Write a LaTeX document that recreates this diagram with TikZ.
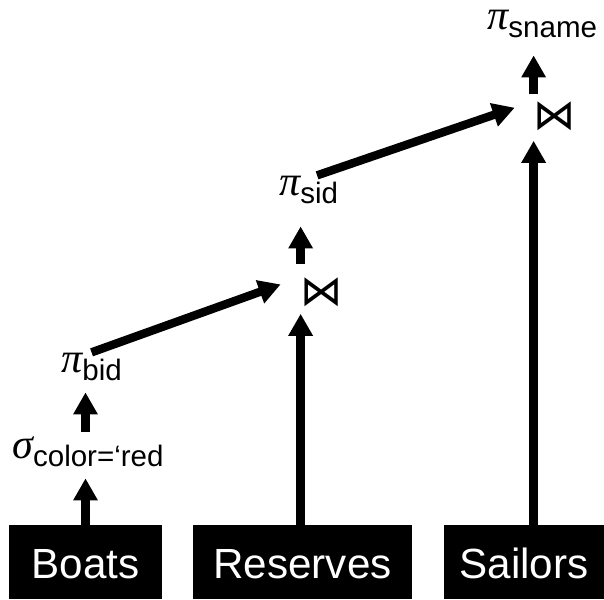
\documentclass[tikz,border=0pt]{standalone}
\usepackage{fontspec}
\setmainfont{Liberation Sans}
\newfontfamily\greekfont{Liberation Serif}
\newfontfamily\symfont{DejaVu Sans}
\usetikzlibrary{arrows.meta}

% operator symbol and its lowered subscript
\newcommand{\opsym}[1]{{\greekfont\itshape\fontsize{30}{34}\selectfont #1}}
\newcommand{\opsub}[1]{\raisebox{-0.22cm}{\fontsize{21}{25}\selectfont #1}}

\tikzset{
  rel/.style={fill=black, text=white, inner sep=0pt, minimum height=1.85cm,
    text height=0.8cm, text depth=0pt, font=\fontsize{30}{34}\selectfont},
  op/.style={inner sep=0pt, anchor=base west},
  joinop/.style={inner sep=0pt, font=\symfont\fontsize{30}{34}\selectfont},
  flow/.style={line width=0.21cm, -{Triangle[length=0.55cm, width=0.58cm]}},
}

\begin{document}
\begin{tikzpicture}[x=0.025cm, y=-0.025cm]
    \useasboundingbox (0,0) rectangle (604,599);

    % base relations
    \node[rel, minimum width=3.825cm] (boats) at (85.5,562) {Boats};
    \node[rel, minimum width=5.475cm] (reserves) at (302.5,562) {Reserves};
    \node[rel, minimum width=4cm] (sailors) at (524,562) {Sailors};

    % operators
    \node[op] (sigma) at (12,458) {\opsym{σ}\opsub{color=‘red}};
    \node[op] (pibid) at (61,372) {\opsym{π}\opsub{bid}};
    \node[joinop] (join1) at (322,292) {⋈};
    \node[op] (pisid) at (279,195) {\opsym{π}\opsub{sid}};
    \node[joinop] (join2) at (555,116) {⋈};
    \node[op] (pisname) at (487,29) {\opsym{π}\opsub{sname}};

    % Boats branch
    \draw[flow, shorten >=0.275cm] (boats.north) -- (boats.north |- sigma.south);
    \draw[flow, shorten <=0.1cm, shorten >=0.275cm] (boats.north |- sigma.north) -- (boats.north |- pibid.south);
    \draw[flow, shorten >=0.53cm] (pibid.north) -- (join1.north west);

    % Reserves branch
    \draw[flow, shorten >=0.175cm] (join1.south west |- reserves.north) -- (join1.south west);
    \draw[flow, shorten <=0.325cm, shorten >=0.55cm] (join1.north west) -- (join1.north west |- pisid.south);
    \draw[flow, shorten >=0.5cm] (pisid.60) -- (join2.north west);

    % Sailors branch
    \draw[flow, shorten >=0.25cm] (join2.south west |- sailors.north) -- (join2.south west);
    \draw[flow, shorten <=0.175cm, shorten >=0.425cm] (join2.north west) -- (join2.north west |- pisname.south);
\end{tikzpicture}
\end{document}
